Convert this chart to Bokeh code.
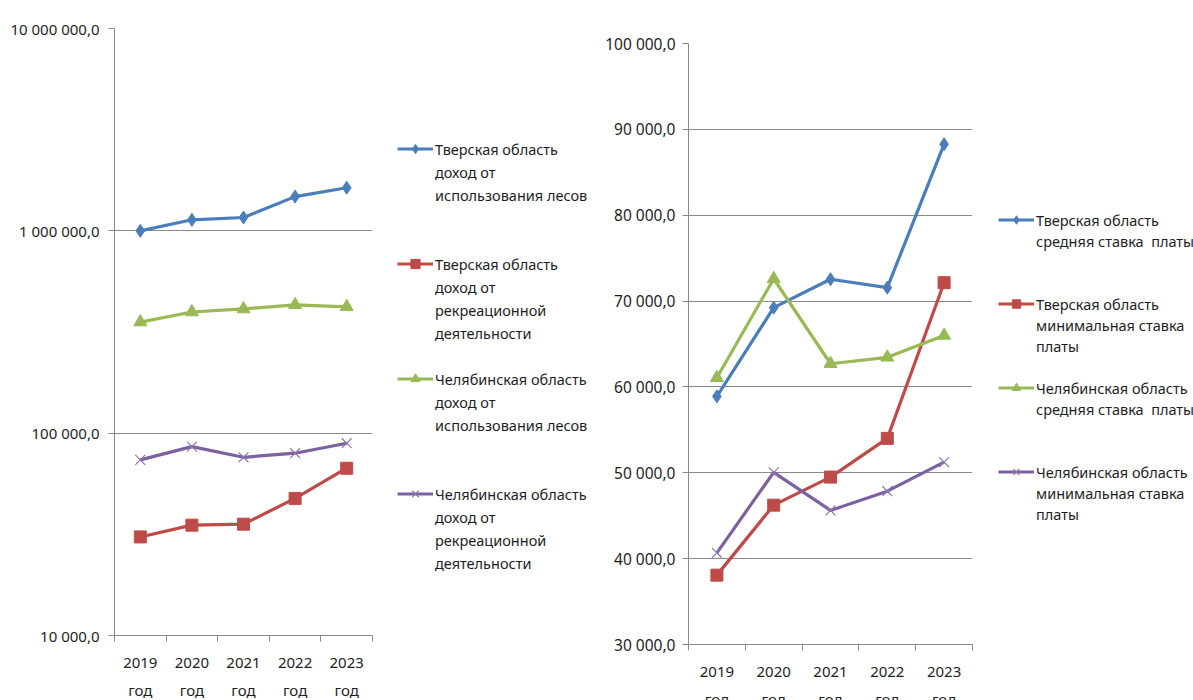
from bokeh.plotting import figure
from bokeh.models import Range1d, FixedTicker, LinearAxis, Legend, LegendItem
from bokeh.layouts import row
from bokeh.embed import file_html
from bokeh.resources import INLINE

FONT = "Noto Sans"
GRID = "#8a8a8a"
TEXT = "#1e1e1e"

years = ["2019", "2020", "2021", "2022", "2023"]
year_labels = ["2019\nгод", "2020\nгод", "2021\nгод", "2022\nгод", "2023\nгод"]

# Left chart: income, rubles (log scale)
tver_forest_income = [1000000, 1134000, 1164000, 1476000, 1633000]
tver_recreation_income = [30700, 35100, 35500, 47600, 67100]
chel_forest_income = [354000, 397000, 411000, 431000, 421000]
chel_recreation_income = [73800, 85800, 76000, 79600, 89200]

left_ticks = [10000, 100000, 1000000, 10000000]
left_tick_labels = ["10 000,0", "100 000,0", "1 000 000,0", "10 000 000,0"]

# legend entries, one list of text lines per series
left_names = [
    ["Тверская область", "доход от", "использования лесов"],
    ["Тверская область", "доход от", "рекреационной", "деятельности"],
    ["Челябинская область", "доход от", "использования лесов"],
    ["Челябинская область", "доход от", "рекреационной", "деятельности"],
]

# Right chart: payment rates
tver_avg_rate = [58900, 69230, 72540, 71560, 88270]
tver_min_rate = [38080, 46230, 49500, 54010, 72140]
chel_avg_rate = [61070, 72600, 62700, 63450, 66000]
chel_min_rate = [40680, 50050, 45620, 47860, 51250]

right_ticks = [30000, 40000, 50000, 60000, 70000, 80000, 90000, 100000]
right_tick_labels = ["30 000,0", "40 000,0", "50 000,0", "60 000,0",
                     "70 000,0", "80 000,0", "90 000,0", "100 000,0"]

right_names = [
    ["Тверская область", "средняя ставка  платы"],
    ["Тверская область", "минимальная ставка", "платы"],
    ["Челябинская область", "средняя ставка  платы"],
    ["Челябинская область", "минимальная ставка", "платы"],
]

colors = ["#4a7ebb", "#be4b48", "#98b954", "#7d60a0"]
markers = ["diamond", "square", "triangle", "x"]
marker_sizes = [13, 12, 13, 14]
X_COLOR = "#8a78b0"

# each year sits in the middle of its own unit-wide band
n_years = len(years)
band_centers = [i + 0.5 for i in range(n_years)]
band_edges = list(range(n_years + 1))


def add_series(p, xs, vals, c, m, s):
    lr = p.line(xs, vals, line_color=c, line_width=3.2)
    if m == "x":
        sr = p.scatter(xs, vals, marker=m, size=s, line_color=X_COLOR, line_width=1.2)
    else:
        sr = p.scatter(xs, vals, marker=m, size=s, fill_color=c, line_color=c)
    return lr, sr


def make_chart(size, borders, y_range, y_type, ticks, tick_labels, series,
               ylabel_size, ylabel_standoff):
    w, h = size
    left, right, top, bottom = borders
    p = figure(width=w, height=h, x_range=Range1d(0, n_years),
               y_range=y_range, y_axis_type=y_type, x_axis_location=None,
               output_backend="svg", toolbar_location=None,
               min_border_left=left, min_border_right=right,
               min_border_top=top, min_border_bottom=bottom)
    p.frame_align = False
    p.outline_line_color = None
    p.background_fill_color = "white"
    p.border_fill_color = "white"

    # y axis with fixed ticks and comma-decimal labels
    yax = p.yaxis[0]
    yax.ticker = FixedTicker(ticks=ticks)
    yax.major_label_overrides = dict(zip(ticks, tick_labels))
    yax.axis_line_color = GRID
    yax.major_tick_line_color = GRID
    yax.major_tick_in = 0
    yax.major_tick_out = 6
    yax.minor_tick_line_color = None
    yax.major_label_text_font = FONT
    yax.major_label_text_font_size = ylabel_size
    yax.major_label_text_color = TEXT
    yax.major_label_standoff = ylabel_standoff

    p.ygrid.ticker = FixedTicker(ticks=ticks)
    p.ygrid.grid_line_color = GRID
    p.xgrid.grid_line_color = None

    # year labels centred in each band, short marks on the band boundaries
    xax = LinearAxis(ticker=FixedTicker(ticks=band_centers, minor_ticks=band_edges),
                     axis_line_color=GRID, major_tick_line_color=None,
                     major_tick_in=0, major_tick_out=0,
                     minor_tick_line_color=GRID, minor_tick_in=0, minor_tick_out=6,
                     major_label_overrides=dict(zip(band_centers, year_labels)),
                     major_label_text_font=FONT, major_label_text_font_size="15px",
                     major_label_text_color=TEXT, major_label_standoff=10,
                     major_label_text_line_height=1.4)
    p.add_layout(xax, "below")

    for vals, c, m, s in zip(series, colors, markers, marker_sizes):
        add_series(p, band_centers, vals, c, m, s)
    return p


def make_legend(width, series, names, location, row_height, lines_per_entry):
    """Legend panel. The series renderers here lie outside the panel's (0, 1) view,
    so only their legend swatches show."""
    lf = figure(width=width, height=700, x_range=Range1d(0, 1), y_range=Range1d(0, 1),
                x_axis_location=None, y_axis_location=None,
                output_backend="svg", toolbar_location=None,
                min_border_left=0, min_border_right=0, min_border_top=0, min_border_bottom=0)
    lf.frame_align = False
    lf.outline_line_color = None
    lf.xgrid.grid_line_color = None
    lf.ygrid.grid_line_color = None
    lf.background_fill_color = "white"
    lf.border_fill_color = "white"

    blank = lf.line([], [], line_alpha=0)
    items = []
    for k, (vals, name, c, m, s) in enumerate(zip(series, names, colors, markers, marker_sizes)):
        lr, sr = add_series(lf, band_centers, vals, c, m, s)
        items.append(LegendItem(label=name[0], renderers=[lr, sr]))
        for line in name[1:]:
            items.append(LegendItem(label=line, renderers=[blank]))
        if k < len(names) - 1:
            for _ in range(lines_per_entry - len(name)):
                items.append(LegendItem(label=" ", renderers=[blank]))

    legend = Legend(items=items, location=location, margin=0, padding=0,
                    border_line_color=None, background_fill_alpha=0,
                    glyph_width=36, glyph_height=row_height, label_height=row_height,
                    label_standoff=2, spacing=0, label_text_font=FONT,
                    label_text_font_size="14.5px", label_text_color=TEXT)
    lf.add_layout(legend, "center")
    return lf


left_series = [tver_forest_income, tver_recreation_income, chel_forest_income, chel_recreation_income]
right_series = [tver_avg_rate, tver_min_rate, chel_avg_rate, chel_min_rate]

left_chart = make_chart(
    (380, 702), (114, 8, 28, 67), Range1d(10000, 10000000), "log", left_ticks, left_tick_labels,
    left_series, "15px", 9)
left_legend = make_legend(220, left_series, left_names, (17, 126), 23, 5)

right_chart = make_chart(
    (380, 711), (88, 8, 43, 67), Range1d(30000, 100000), "linear", right_ticks, right_tick_labels,
    right_series, "15.5px", 7)
right_legend = make_legend(213, right_series, right_names, (18, 176), 21, 4)

layout = row(left_chart, left_legend, right_chart, right_legend)
open("out.html", "w").write(file_html(layout, INLINE))
